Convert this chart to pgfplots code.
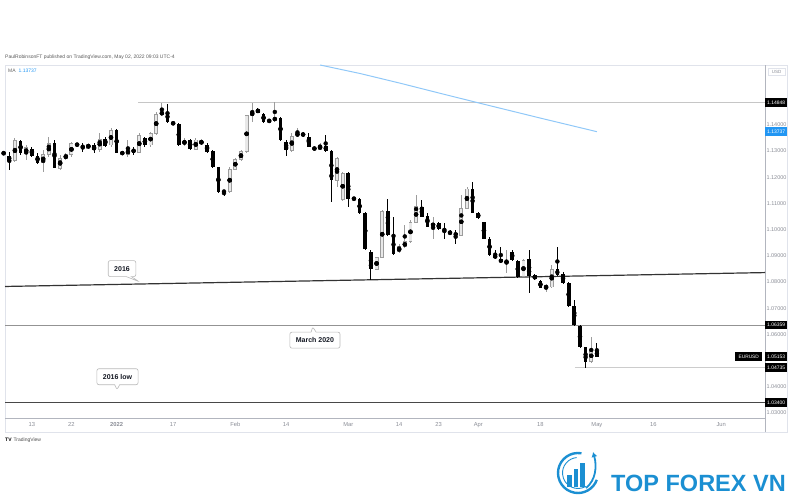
\documentclass[border=0pt]{standalone}
\usepackage{fontspec}
\setmainfont{Liberation Sans}
\usepackage{pgfplots}
\pgfplotsset{compat=1.18}
\usepackage{pgfplotstable}
\usetikzlibrary{shapes.callouts,arrows.meta}

\definecolor{tickgrey}{HTML}{8A8D96}
\definecolor{framegrey}{HTML}{E0E3EB}
\definecolor{axisgrey}{HTML}{B2B5BE}
\definecolor{upfill}{HTML}{E8E8E8}
\definecolor{upedge}{HTML}{9C9C9C}
\definecolor{maline}{HTML}{90C8F8}
\definecolor{tvblue}{HTML}{2196F3}
\definecolor{brand}{HTML}{1B8FD2}
\definecolor{ink}{HTML}{131722}

% EURUSD daily, Dec 2021 - May 2 2022; n = bar number
\pgfplotstableread{
n o h l c
1 1.1296 1.1297 1.1285 1.1289
2 1.1281 1.1297 1.1228 1.1263
4 1.1339 1.1342 1.1285 1.1291
6 1.1307 1.1317 1.1278 1.1281
7 1.1281 1.1291 1.1250 1.1255
10 1.1330 1.1342 1.1234 1.1234
14 1.1326 1.1332 1.1317 1.1322
15 1.1319 1.1330 1.1297 1.1314
17 1.1323 1.1330 1.1291 1.1304
19 1.1345 1.1355 1.1317 1.1319
21 1.1380 1.1383 1.1291 1.1294
22 1.1296 1.1300 1.1284 1.1288
24 1.1307 1.1317 1.1285 1.1294
26 1.1349 1.1355 1.1317 1.1323
30 1.1450 1.1480 1.1408 1.1412
31 1.1410 1.1412 1.1399 1.1402
32 1.1402 1.1406 1.1319 1.1323
34 1.1342 1.1345 1.1304 1.1307
37 1.1323 1.1330 1.1294 1.1297
38 1.1301 1.1304 1.1234 1.1238
39 1.1238 1.1240 1.1138 1.1145
40 1.1148 1.1151 1.1128 1.1143
46 1.1459 1.1463 1.1444 1.1446
47 1.1441 1.1446 1.1408 1.1412
48 1.1419 1.1421 1.1408 1.1412
50 1.1425 1.1431 1.1339 1.1342
51 1.1336 1.1342 1.1281 1.1304
54 1.1368 1.1373 1.1354 1.1357
55 1.1355 1.1368 1.1314 1.1317
56 1.1312 1.1315 1.1304 1.1307
58 1.1320 1.1361 1.1297 1.1301
59 1.1301 1.1304 1.1106 1.1189
62 1.1215 1.1221 1.1087 1.1116
63 1.1119 1.1124 1.1113 1.1116
64 1.1116 1.1119 1.1059 1.1064
65 1.1062 1.1068 1.0924 1.0928
66 1.0915 1.0922 1.0806 1.0848
69 1.1071 1.1116 1.0976 1.0979
70 1.0979 1.1049 1.0903 1.0907
75 1.1087 1.1113 1.1047 1.1049
76 1.1052 1.1062 1.1009 1.1011
78 1.1024 1.1030 1.0999 1.1001
79 1.1002 1.1024 1.0965 1.0996
80 1.0992 1.0999 1.0979 1.0983
81 1.0986 1.0999 1.0947 1.0979
84 1.1155 1.1183 1.1062 1.1064
85 1.1064 1.1068 1.1040 1.1043
86 1.1028 1.1030 1.0963 1.0965
87 1.0965 1.0972 1.0899 1.0903
88 1.0903 1.0922 1.0887 1.0891
89 1.0887 1.0934 1.0872 1.0875
91 1.0915 1.0922 1.0881 1.0884
92 1.0881 1.0884 1.0814 1.0820
94 1.0887 1.0922 1.0757 1.0823
95 1.0827 1.0830 1.0806 1.0810
96 1.0803 1.0806 1.0776 1.0778
99 1.0848 1.0934 1.0823 1.0827
100 1.0830 1.0839 1.0792 1.0795
101 1.0795 1.0801 1.0706 1.0708
102 1.0708 1.0731 1.0632 1.0636
103 1.0633 1.0636 1.0547 1.0551
104 1.0551 1.0553 1.04735 1.0496
106 1.0538 1.0566 1.0513 1.05153
}\downbars

\pgfplotstableread{
n o h l c
3 1.1263 1.1349 1.1259 1.1339
5 1.1289 1.1323 1.1266 1.1314
8 1.1255 1.1304 1.1221 1.1285
9 1.1285 1.1355 1.1278 1.1330
11 1.1234 1.1285 1.1228 1.1272
12 1.1272 1.1291 1.1266 1.1285
13 1.1285 1.1336 1.1278 1.1327
16 1.1310 1.1330 1.1307 1.1326
18 1.1307 1.1370 1.1297 1.1345
20 1.1323 1.1387 1.1317 1.1380
23 1.1285 1.1342 1.1278 1.1307
25 1.1294 1.1368 1.1291 1.1361
27 1.1323 1.1374 1.1317 1.1368
28 1.1368 1.1450 1.1361 1.1440
29 1.1438 1.1482 1.1434 1.1450
33 1.1323 1.1349 1.1319 1.1342
35 1.1307 1.1349 1.1304 1.1342
36 1.1327 1.1345 1.1323 1.1339
41 1.1145 1.1238 1.1141 1.1231
42 1.1231 1.1272 1.1228 1.1268
43 1.1266 1.1304 1.1263 1.1297
44 1.1297 1.1438 1.1294 1.1434
45 1.1434 1.1485 1.1412 1.1450
49 1.1419 1.1486 1.1412 1.1425
52 1.1301 1.1368 1.1297 1.1357
53 1.1357 1.1387 1.1355 1.1370
57 1.1307 1.1330 1.1304 1.1320
60 1.1189 1.1278 1.1164 1.1270
61 1.1116 1.1221 1.1110 1.1215
67 1.0848 1.0897 1.0846 1.0893
68 1.0893 1.1075 1.0891 1.1071
71 1.0915 1.0947 1.0909 1.0934
72 1.0934 1.1017 1.0931 1.0953
73 1.0953 1.1036 1.0949 1.1029
74 1.1029 1.1132 1.1025 1.1087
77 1.1013 1.1049 1.0965 1.1024
82 1.0979 1.1132 1.0976 1.1081
83 1.1081 1.1164 1.1077 1.1155
90 1.0872 1.0922 1.0834 1.0878
93 1.0820 1.0887 1.0818 1.0881
97 1.0778 1.0794 1.0763 1.0784
98 1.0781 1.0864 1.0778 1.0848
105 1.0496 1.0589 1.0492 1.0541
}\upbars

\newcommand\pricebox[3]{%
  \node[fill=#2, text=white, font=\fontsize{5}{5}\selectfont, anchor=west,
        minimum width=22pt, minimum height=8.5pt, inner sep=0pt]
        at (axis cs:135.75,#1) {#3};}

\begin{document}
\begin{tikzpicture}[x=1pt,y=1pt]
\path[use as bounding box] (0,0) rectangle (800,500);

% panel frame
\draw[framegrey, line width=0.6pt] (5,68) rectangle (787,435);
\draw[axisgrey, line width=0.7pt] (5,82) -- (765,82);
\draw[axisgrey, line width=0.7pt] (765,68) -- (765,435);

\begin{axis}[
  at={(5pt,82pt)}, anchor=south west,
  scale only axis, width=760pt, height=353pt,
  xmin=1.24, xmax=135.75, ymin=1.0281, ymax=1.16283,
  clip=false,
  axis line style={draw=none},
  tick style={draw=none},
  xtick={6,13,21,31,42,51,62,71,78,85,96,106,116,128},
  xticklabels={13,22,\textbf{2022},17,Feb,14,Mar,14,23,Apr,18,May,16,Jun},
  xticklabel style={font=\fontsize{5.8}{6}\selectfont, text=tickgrey,
                    anchor=base, yshift=-9pt},
  ytick={1.03,1.04,1.06,1.07,1.08,1.09,1.10,1.11,1.12,1.13,1.14},
  yticklabel pos=right,
  yticklabel style={font=\fontsize{5.5}{6}\selectfont, text=tickgrey,
                    anchor=center, xshift=11.5pt,
                    /pgf/number format/fixed,
                    /pgf/number format/fixed zerofill,
                    /pgf/number format/precision=5,
                    /pgf/number format/assume math mode=true},
]

% reference lines
\addplot[gray!45, line width=0.6pt] coordinates {(24.8,1.14848) (135.75,1.14848)};
\addplot[gray!40, line width=0.6pt] coordinates {(102.1,1.04735) (135.75,1.04735)};
\addplot[black!80, line width=1.2pt] coordinates {(1.24,1.0783) (135.75,1.0836)};
\addplot[gray!85, line width=0.8pt] coordinates {(1.24,1.06359) (135.75,1.06359)};
\addplot[black!72, line width=1.3pt] coordinates {(1.24,1.0340) (135.75,1.0340)};

% moving average
\addplot[maline, line width=1pt] coordinates {
  (57,1.16283) (64.1,1.15957) (71.2,1.15587) (78.2,1.15205)
  (85.3,1.14823) (95.9,1.14261) (106,1.13737)};

% up candles (hollow)
\addplot[only marks, mark=none, error bars/.cd, y dir=both, y explicit,
  error mark=none, error bar style={draw=upedge, line width=0.9pt}]
  table[x=n, y expr={(\thisrow{h}+\thisrow{l})/2},
        y error expr={(\thisrow{h}-\thisrow{l})/2}] {\upbars};
\addplot[only marks, mark=none, error bars/.cd, y dir=both, y explicit,
  error mark=none, error bar style={draw=upedge, line width=3.9pt}]
  table[x=n, y expr={(\thisrow{o}+\thisrow{c})/2},
        y error expr={abs(\thisrow{c}-\thisrow{o})/2+0.00018}] {\upbars};
\addplot[only marks, mark=none, error bars/.cd, y dir=both, y explicit,
  error mark=none, error bar style={draw=upfill, line width=2.3pt}]
  table[x=n, y expr={(\thisrow{o}+\thisrow{c})/2},
        y error expr={max(abs(\thisrow{c}-\thisrow{o})/2-0.00018,0)}] {\upbars};

% down candles (black)
\addplot[only marks, mark=none, error bars/.cd, y dir=both, y explicit,
  error mark=none, error bar style={draw=black, line width=0.9pt}]
  table[x=n, y expr={(\thisrow{h}+\thisrow{l})/2},
        y error expr={(\thisrow{h}-\thisrow{l})/2}] {\downbars};
\addplot[only marks, mark=none, error bars/.cd, y dir=both, y explicit,
  error mark=none, error bar style={draw=black, line width=3.7pt}]
  table[x=n, y expr={(\thisrow{o}+\thisrow{c})/2},
        y error expr={max(abs(\thisrow{c}-\thisrow{o})/2,0.00018)}] {\downbars};

% annotations
\tikzset{callbox/.style={rectangle callout, rounded corners=2pt, draw=gray!55,
  fill=white, line width=0.6pt, text=ink, callout pointer width=5pt,
  font=\bfseries\fontsize{7}{8}\selectfont, minimum height=16pt, inner xsep=6pt}}
\node[callbox, callout absolute pointer={(axis cs:25,1.0801)}]
  at (axis cs:21.95,1.08512) {2016};
\node[callbox, callout absolute pointer={(axis cs:55.7,1.0629)}]
  at (axis cs:56.1,1.05781) {March 2020};
\node[callbox, callout absolute pointer={(axis cs:21.06,1.0389)}]
  at (axis cs:21.15,1.04386) {2016 low};

% price scale labels
\pricebox{1.14848}{black}{1.14848}
\pricebox{1.13737}{tvblue}{1.13737}
\pricebox{1.06359}{black}{1.06359}
\pricebox{1.05153}{black}{1.05153}
\pricebox{1.04735}{black}{1.04735}
\pricebox{1.03400}{black}{1.03400}
\node[fill=black, text=white, font=\fontsize{4.8}{5}\selectfont, anchor=east,
      minimum width=27pt, minimum height=8.5pt, inner sep=0pt]
      at (axis cs:135.3,1.05153) {EURUSD};
\end{axis}

% header texts
\node[anchor=west, inner sep=0pt, text=black!65, font=\fontsize{5}{6}\selectfont]
  at (5,443) {PaulRobinsonFT published on TradingView.com, May 02, 2022 09:03 UTC-4};
\node[anchor=west, inner sep=0pt, font=\fontsize{5}{6}\selectfont]
  at (8,429.5) {\textcolor{black!60}{MA}\hspace{3pt}\textcolor{tvblue}{1.13737}};
\node[draw=framegrey, text=tickgrey, font=\fontsize{4.5}{5}\selectfont,
      minimum width=17pt, minimum height=7pt, inner sep=0pt] at (776.5,428.5) {USD};

% TradingView footer
\node[anchor=west, inner sep=0pt, font=\fontsize{5}{6}\selectfont]
  at (5,60) {\textbf{TV}\hspace{2pt}\textcolor{black!70}{TradingView}};

% watermark
\begin{scope}[brand]
  \draw[line width=2.4pt] (578,27) ++(80:20) arc (80:340:20);
  \draw[line width=0.9pt] (578,27) ++(95:15.5) arc (95:300:15.5);
  \fill (567,13) rectangle (571.5,25);
  \fill (573.5,13) rectangle (578,31);
  \fill (580,13) rectangle (584.5,37);
  \draw[line width=1.8pt, -{Latex[length=5pt,width=6pt]}]
    (586,12) .. controls (596,20) and (597,34) .. (593,48);
\end{scope}
\node[anchor=base west, inner sep=0pt, text=brand,
      font=\bfseries\fontsize{23.5}{24}\selectfont] at (611,8) {TOP FOREX VN};
\end{tikzpicture}
\end{document}
